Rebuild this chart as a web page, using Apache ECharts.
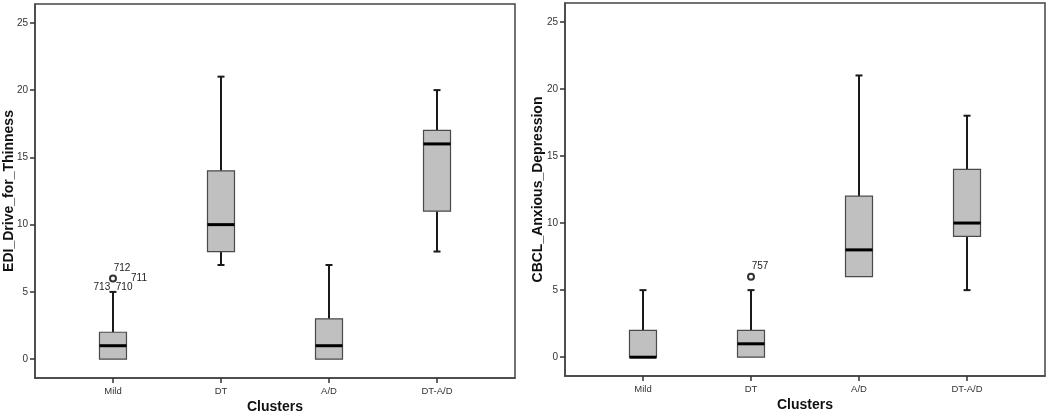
<!DOCTYPE html>
<html><head><meta charset="utf-8">
<script src="https://cdn.jsdelivr.net/npm/echarts@6/dist/echarts.min.js"></script>
<style>html,body{margin:0;padding:0;background:#fff}#c{width:1050px;height:416px}</style>
</head><body><div id="c"></div>
<script>
// ---- data ----
const categories = ['Mild', 'DT', 'A/D', 'DT-A/D'];
const yTicks = [0, 5, 10, 15, 20, 25];

// EDI_Drive_for_Thinness
const ediLow    = [0, 7, 0, 8];
const ediQ1     = [0, 8, 0, 11];
const ediMedian = [1, 10, 1, 16];
const ediQ3     = [2, 14, 3, 17];
const ediHigh   = [5, 21, 7, 20];
const ediOutlierCat   = [0];
const ediOutlierValue = [6];
const ediOutlierIds   = [['712', '711', '713_710']];

// CBCL_Anxious_Depression
const cbclLow    = [0, 0, 6, 5];
const cbclQ1     = [0, 0, 6, 9];
const cbclMedian = [0, 1, 8, 10];
const cbclQ3     = [2, 2, 12, 14];
const cbclHigh   = [5, 5, 21, 18];
const cbclOutlierCat   = [1];
const cbclOutlierValue = [6];
const cbclOutlierIds   = [['757']];

// ---- style ----
const FONT = '"Liberation Sans", Arial, sans-serif';
const BOX_HALF = 13.5, CAP_HALF = 3.5;
const labelOffsets = [[9, -10], [26, 0], [0, 9]];

function boxData(lo, q1, med, q3, hi) {
  return categories.map((c, i) => [i, lo[i], q1[i], med[i], q3[i], hi[i]]);
}

function renderBox(params, api) {
  const x = api.value(0);
  const pLo = api.coord([x, api.value(1)]);
  const pQ1 = api.coord([x, api.value(2)]);
  const pMed = api.coord([x, api.value(3)]);
  const pQ3 = api.coord([x, api.value(4)]);
  const pHi = api.coord([x, api.value(5)]);
  const cx = pMed[0];
  const wStyle = { stroke: '#1a1a1a', lineWidth: 2 };
  const children = [];
  if (pHi[1] < pQ3[1]) {
    children.push({ type: 'line', shape: { x1: cx, y1: pQ3[1], x2: cx, y2: pHi[1] }, style: wStyle });
  }
  children.push({ type: 'line', shape: { x1: cx - CAP_HALF, y1: pHi[1], x2: cx + CAP_HALF, y2: pHi[1] }, style: wStyle });
  if (pLo[1] > pQ1[1]) {
    children.push({ type: 'line', shape: { x1: cx, y1: pQ1[1], x2: cx, y2: pLo[1] }, style: wStyle });
    children.push({ type: 'line', shape: { x1: cx - CAP_HALF, y1: pLo[1], x2: cx + CAP_HALF, y2: pLo[1] }, style: wStyle });
  }
  children.push({ type: 'rect', shape: { x: cx - BOX_HALF, y: pQ3[1], width: BOX_HALF * 2, height: Math.max(pQ1[1] - pQ3[1], 0) },
    style: { fill: '#c0c0c0', stroke: '#4a4a4a', lineWidth: 1.2 } });
  children.push({ type: 'line', shape: { x1: cx - BOX_HALF, y1: pMed[1], x2: cx + BOX_HALF, y2: pMed[1] },
    style: { stroke: '#000', lineWidth: 3 } });
  return { type: 'group', children };
}

function makeOutlierRender(idsList) {
  return function (params, api) {
    const p = api.coord([api.value(0), api.value(1)]);
    const ids = idsList[params.dataIndex] || [];
    const children = [{ type: 'circle', shape: { cx: p[0], cy: p[1], r: 3 },
      style: { fill: '#fff', stroke: '#333', lineWidth: 2 } }];
    ids.forEach((t, k) => {
      const off = labelOffsets[k] || [0, 0];
      children.push({ type: 'text', x: p[0] + off[0], y: p[1] + off[1],
        style: { text: t, fill: '#222', font: '10px ' + FONT, align: 'center', verticalAlign: 'middle' } });
    });
    return { type: 'group', children };
  };
}

function xAxisCfg(gi) {
  return {
    type: 'value', gridIndex: gi, min: -0.722, max: 3.722,
    name: 'Clusters', nameLocation: 'middle', nameGap: 22, nameMoveOverlap: false,
    nameTextStyle: { fontFamily: FONT, fontWeight: 'bold', fontSize: 14, color: '#111' },
    axisLine: { show: true, onZero: false, lineStyle: { color: '#444', width: 1.5 } },
    axisTick: { show: true, customValues: [0, 1, 2, 3], length: 5, lineStyle: { color: '#333', width: 1.5 } },
    axisLabel: { customValues: [0, 1, 2, 3], formatter: v => categories[Math.round(v)], fontFamily: FONT, fontSize: 9.5, color: '#333', margin: 8 },
    splitLine: { show: false }
  };
}
function yAxisCfg(gi, name, gap) {
  return {
    type: 'value', gridIndex: gi, min: -1.4, max: 26.4,
    name: name, nameLocation: 'middle', nameGap: gap, nameMoveOverlap: false,
    nameTextStyle: { fontFamily: FONT, fontWeight: 'bold', fontSize: 14, color: '#111' },
    axisLine: { show: true, onZero: false, lineStyle: { color: '#444', width: 1.5 } },
    axisTick: { show: true, customValues: yTicks, length: 5, lineStyle: { color: '#333', width: 1.5 } },
    axisLabel: { customValues: yTicks, fontFamily: FONT, fontSize: 10, color: '#333', margin: 7 },
    splitLine: { show: false }
  };
}

const chart = echarts.init(document.getElementById('c'), null, { renderer: 'canvas' });
chart.setOption({
  animation: false,
  backgroundColor: '#fff',
  grid: [
    { left: 35, top: 4, width: 480, height: 374, show: true, borderColor: '#444', borderWidth: 1.5, outerBoundsMode: 'none', containLabel: false },
    { left: 565, top: 3, width: 480, height: 373, show: true, borderColor: '#444', borderWidth: 1.5, outerBoundsMode: 'none', containLabel: false }
  ],
  xAxis: [xAxisCfg(0), xAxisCfg(1)],
  yAxis: [yAxisCfg(0, 'EDI_Drive_for_Thinness', 19), yAxisCfg(1, 'CBCL_Anxious_Depression', 20)],
  series: [
    { type: 'custom', xAxisIndex: 0, yAxisIndex: 0, renderItem: renderBox,
      encode: { x: 0, y: [1, 2, 3, 4, 5] }, data: boxData(ediLow, ediQ1, ediMedian, ediQ3, ediHigh) },
    { type: 'custom', xAxisIndex: 0, yAxisIndex: 0, renderItem: makeOutlierRender(ediOutlierIds),
      encode: { x: 0, y: 1 }, data: ediOutlierCat.map((c, i) => [c, ediOutlierValue[i]]) },
    { type: 'custom', xAxisIndex: 1, yAxisIndex: 1, renderItem: renderBox,
      encode: { x: 0, y: [1, 2, 3, 4, 5] }, data: boxData(cbclLow, cbclQ1, cbclMedian, cbclQ3, cbclHigh) },
    { type: 'custom', xAxisIndex: 1, yAxisIndex: 1, renderItem: makeOutlierRender(cbclOutlierIds),
      encode: { x: 0, y: 1 }, data: cbclOutlierCat.map((c, i) => [c, cbclOutlierValue[i]]) }
  ]
});
</script></body></html>
